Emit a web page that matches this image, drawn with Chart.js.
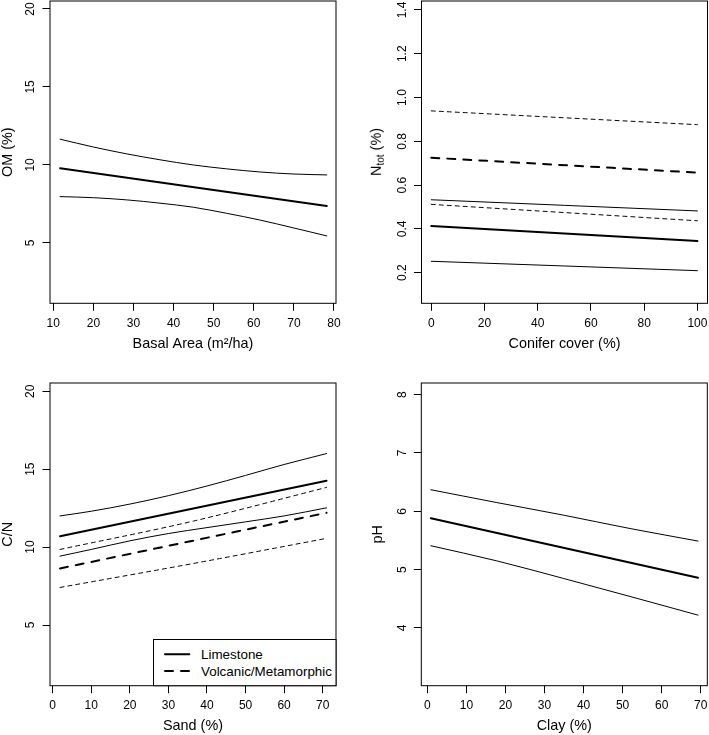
<!DOCTYPE html>
<html lang="en">
<head>
    <meta charset="UTF-8">
    <title>Soil properties</title>
    <script src="https://cdn.jsdelivr.net/npm/chart.js"></script>
    <style>
        body { margin: 0; background: #fff; font-family: "Liberation Sans", Arial, Helvetica, sans-serif; }
        #wrap { position: relative; width: 709px; height: 735px; overflow: hidden; }
        canvas { position: absolute; }
        .ylab { position: absolute; transform: translate(-50%, -50%) rotate(-90deg); white-space: nowrap; font-size: 14.4px; line-height: 1; }
        .ylab sub { font-size: 0.7em; vertical-align: -0.3em; line-height: 0; }
        #legend { position: absolute; left: 153px; top: 639px; }
    </style>
</head>
<body>
<div id="wrap">
    <canvas id="om" width="354" height="353" style="left:0;top:0"></canvas>
    <canvas id="ntot" width="355" height="353" style="left:354px;top:0"></canvas>
    <canvas id="cn" width="354" height="367" style="left:0;top:368px"></canvas>
    <canvas id="ph" width="355" height="367" style="left:354px;top:368px"></canvas>
    <div class="ylab" style="left:376px;top:152px">N<sub>tot</sub> (%)</div>
    <svg id="legend" width="184" height="48"></svg>
</div>

<script>
    // OM (%) against basal area
    const baX = [11.7, 20, 28.3, 36.6, 44.9, 53.2, 61.5, 69.8, 78.2];
    const omUpper = [11.65, 11.15, 10.71, 10.33, 10.0, 9.75, 9.55, 9.42, 9.36];
    const omLower = [7.97, 7.9, 7.76, 7.55, 7.29, 6.9, 6.47, 5.97, 5.45];
    const baFitX = [11.7, 78.2];
    const omFit = [9.79, 7.37];
    const baTicks = [10, 20, 30, 40, 50, 60, 70, 80];
    const omTicks = [5, 10, 15, 20];

    // N tot (%) against conifer cover
    const coverX = [0, 100];
    const nLimFit = [0.413, 0.345];
    const nLimUpper = [0.533, 0.482];
    const nLimLower = [0.252, 0.209];
    const nVolFit = [0.725, 0.657];
    const nVolUpper = [0.939, 0.876];
    const nVolLower = [0.512, 0.437];
    const coverTicks = [0, 20, 40, 60, 80, 100];
    const nTicks = [0.2, 0.4, 0.6, 0.8, 1.0, 1.2, 1.4];
    const nTickLabels = ["0.2", "0.4", "0.6", "0.8", "1.0", "1.2", "1.4"];

    // C/N against sand
    const sandX = [1.9, 10, 20, 30, 40, 50, 60, 71];
    const cnLimUpper = [12.0, 12.3, 12.76, 13.3, 13.92, 14.6, 15.3, 16.0];
    const cnLimLower = [9.42, 9.85, 10.4, 10.87, 11.25, 11.62, 12.0, 12.52];
    const sandFitX = [1.9, 71];
    const cnLimFit = [10.7, 14.26];
    const cnVolFit = [8.63, 12.2];
    const sandBandX = [1.9, 36.5, 71];
    const cnVolUpper = [9.85, 11.67, 13.83];
    const cnVolLower = [7.41, 8.95, 10.56];
    const sandTicks = [0, 10, 20, 30, 40, 50, 60, 70];
    const cnTicks = [5, 10, 15, 20];

    // pH against clay
    const clayX = [0.9, 17.8, 34.8, 51.9, 69.3];
    const phUpper = [6.37, 6.15, 5.935, 5.705, 5.49];
    const phLower = [5.41, 5.15, 4.85, 4.54, 4.22];
    const clayFitX = [0.9, 69.3];
    const phFit = [5.88, 4.86];
    const clayTicks = [0, 10, 20, 30, 40, 50, 60, 70];
    const phTicks = [4, 5, 6, 7, 8];

    const legendLabels = ["Limestone", "Volcanic/Metamorphic"];

    const FONT = "'Liberation Sans', Arial, Helvetica, sans-serif";
    Chart.defaults.font.family = FONT;
    Chart.defaults.color = "#000";

    const TICK = 7.5;
    const meas = document.createElement("canvas").getContext("2d");
    meas.font = "12px " + FONT;
    // rotated y labels sit 19px left of the frame
    function yPad(labels) {
        const w = Math.max(...labels.map(l => meas.measureText(l).width));
        return 19 - TICK - w / 2;
    }

    function line(xs, ys, width, dash) {
        return {
            data: xs.map((x, i) => ({ x: x, y: ys[i] })),
            borderColor: "#000",
            borderWidth: width,
            borderDash: dash || [],
            borderCapStyle: "round",
            pointRadius: 0,
            fill: false,
            cubicInterpolationMode: "monotone"
        };
    }

    const frame = {
        id: "frame",
        afterDraw(chart) {
            const { ctx, chartArea: a } = chart;
            ctx.save();
            ctx.strokeStyle = "#000";
            ctx.lineWidth = 1;
            ctx.strokeRect(a.left, a.top, a.right - a.left, a.bottom - a.top);
            ctx.restore();
        }
    };

    function panel(id, p) {
        const grid = { drawOnChartArea: false, drawTicks: true, tickLength: TICK, color: "#000", lineWidth: 1 };
        new Chart(document.getElementById(id), {
            type: "line",
            data: { datasets: p.datasets },
            options: {
                responsive: false,
                animation: false,
                layout: { padding: { left: 0, top: p.top, right: p.right, bottom: 0 } },
                plugins: { legend: { display: false }, tooltip: { enabled: false } },
                scales: {
                    x: {
                        type: "linear", min: p.xRange[0], max: p.xRange[1], bounds: "data",
                        afterBuildTicks: s => { s.ticks = p.xTicks.map(v => ({ value: v })); },
                        afterFit: s => { s.height = p.xHeight; s.paddingLeft = 0; s.paddingRight = 0; },
                        grid: grid,
                        border: { display: false },
                        ticks: { autoSkip: false, maxRotation: 0, padding: 20 - TICK - 7.2, font: { size: 12 } },
                        title: { display: true, text: p.xTitle, font: { size: 14.4 }, padding: 0 }
                    },
                    y: {
                        type: "linear", min: p.yRange[0], max: p.yRange[1], bounds: "data",
                        afterBuildTicks: s => { s.ticks = p.yTicks.map(v => ({ value: v })); },
                        afterFit: s => { s.width = p.yWidth; s.paddingTop = 0; s.paddingBottom = 0; },
                        grid: grid,
                        border: { display: false },
                        ticks: {
                            autoSkip: false, minRotation: 90, maxRotation: 90, crossAlign: "center",
                            padding: yPad(p.yLabels), font: { size: 12 },
                            callback: (v, i) => p.yLabels[i]
                        },
                        title: {
                            display: !!p.yTitle, text: p.yTitle || "",
                            font: { size: 14.4, lineHeight: 1 }, padding: { top: p.yTitlePad || 0, bottom: 0 }
                        }
                    }
                }
            },
            plugins: [frame]
        });
    }

    panel("om", {
        datasets: [
            line(baX, omUpper, 1),
            line(baFitX, omFit, 2),
            line(baX, omLower, 1)
        ],
        top: 1, right: 18, xHeight: 49.7, yWidth: 50,
        xRange: [9.18, 80.5], yRange: [1.13, 20.51],
        xTicks: baTicks, yTicks: omTicks, yLabels: omTicks.map(String),
        xTitle: "Basal Area (m²/ha)", yTitle: "OM (%)", yTitlePad: 0.8
    });

    panel("ntot", {
        datasets: [
            line(coverX, nVolUpper, 1, [4, 4]),
            line(coverX, nVolFit, 2, [8, 8]),
            line(coverX, nVolLower, 1, [4, 4]),
            line(coverX, nLimUpper, 1),
            line(coverX, nLimFit, 2),
            line(coverX, nLimLower, 1)
        ],
        top: 1, right: 1.5, xHeight: 49.7, yWidth: 67.5,
        xRange: [-3.68, 103.8], yRange: [0.06, 1.441],
        xTicks: coverTicks, yTicks: nTicks, yLabels: nTickLabels,
        xTitle: "Conifer cover (%)"
    });

    panel("cn", {
        datasets: [
            line(sandX, cnLimUpper, 1),
            line(sandFitX, cnLimFit, 2),
            line(sandX, cnLimLower, 1),
            line(sandBandX, cnVolUpper, 1, [4, 4]),
            line(sandFitX, cnVolFit, 2, [8, 8]),
            line(sandBandX, cnVolLower, 1, [4, 4])
        ],
        top: 15, right: 18, xHeight: 49.3, yWidth: 50,
        xRange: [-0.7, 73.45], yRange: [1.105, 20.53],
        xTicks: sandTicks, yTicks: cnTicks, yLabels: cnTicks.map(String),
        xTitle: "Sand (%)", yTitle: "C/N", yTitlePad: 0.8
    });

    panel("ph", {
        datasets: [
            line(clayX, phUpper, 1),
            line(clayFitX, phFit, 2),
            line(clayX, phLower, 1)
        ],
        top: 15, right: 1.7, xHeight: 49.3, yWidth: 67.3,
        xRange: [-1.54, 71.68], yRange: [3.01, 8.2],
        xTicks: clayTicks, yTicks: phTicks, yLabels: phTicks.map(String),
        xTitle: "Clay (%)", yTitle: "pH", yTitlePad: 16.8
    });

    // legend box in the lower right of the C/N panel
    const svg = document.getElementById("legend");
    const NS = "http://www.w3.org/2000/svg";
    const box = document.createElementNS(NS, "rect");
    box.setAttribute("x", 0.5); box.setAttribute("y", 0.5);
    box.setAttribute("width", 182.5); box.setAttribute("height", 46.2);
    box.setAttribute("fill", "#fff"); box.setAttribute("stroke", "#000");
    svg.appendChild(box);
    legendLabels.forEach((label, i) => {
        const y = 15.3 + i * 16.7;
        const l = document.createElementNS(NS, "line");
        l.setAttribute("x1", 12); l.setAttribute("x2", 36.3);
        l.setAttribute("y1", y); l.setAttribute("y2", y);
        l.setAttribute("stroke", "#000"); l.setAttribute("stroke-width", 2);
        l.setAttribute("stroke-linecap", "round");
        if (i === 1) l.setAttribute("stroke-dasharray", "8 8");
        svg.appendChild(l);
        const t = document.createElementNS(NS, "text");
        t.setAttribute("x", 48); t.setAttribute("y", y);
        t.setAttribute("dominant-baseline", "central");
        t.setAttribute("font-size", "13.4px");
        t.setAttribute("font-family", FONT);
        t.textContent = label;
        svg.appendChild(t);
    });
</script>
</body>
</html>
